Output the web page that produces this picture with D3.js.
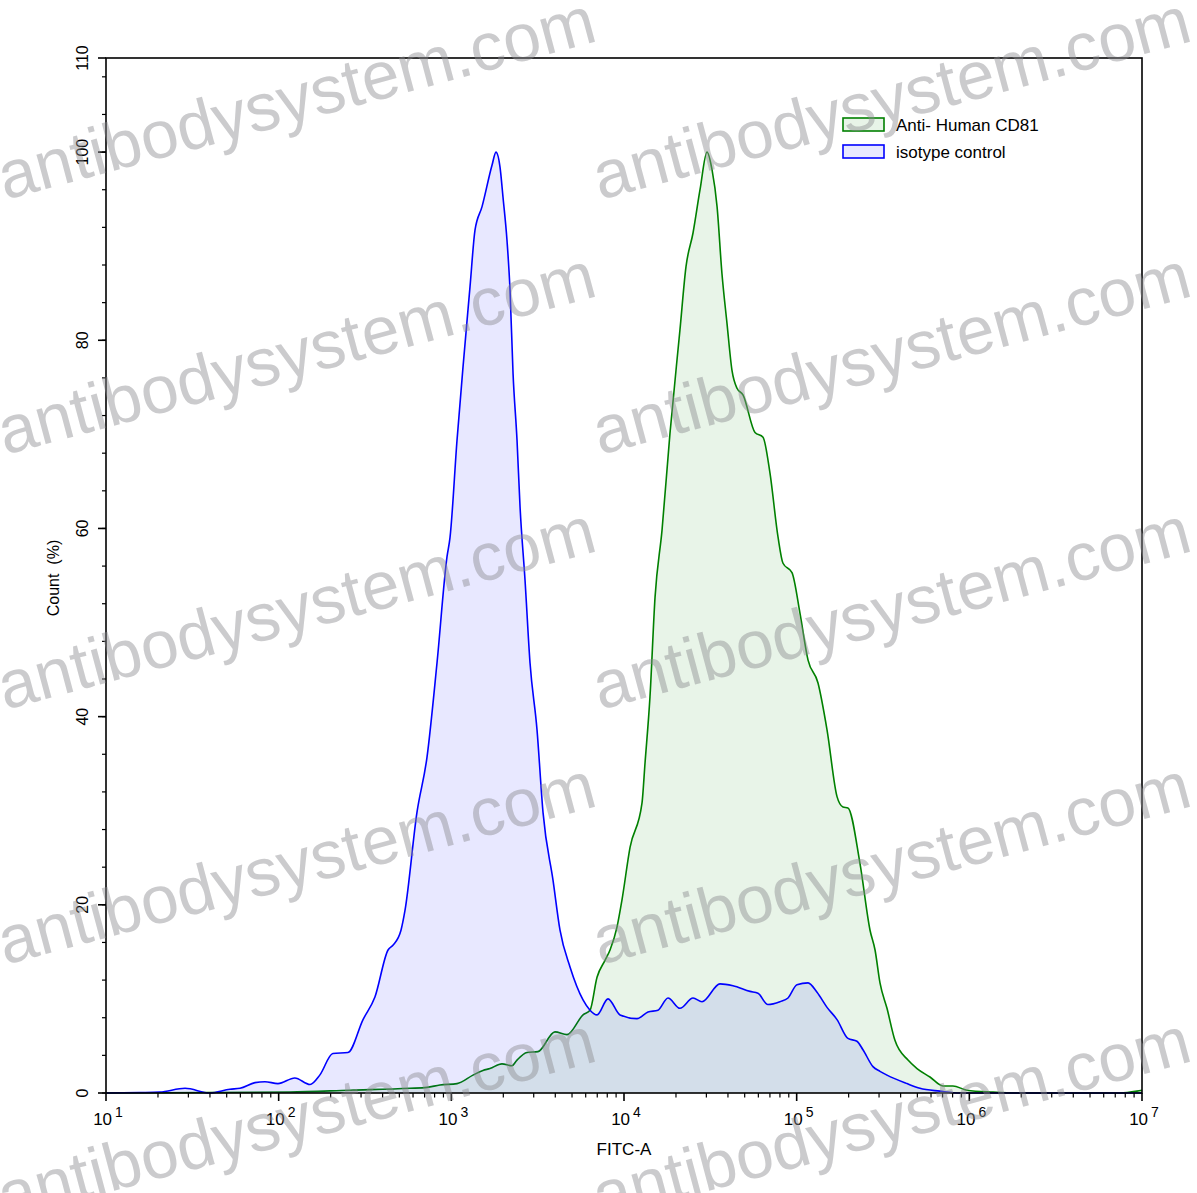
<!DOCTYPE html>
<html><head><meta charset="utf-8">
<script src="https://cdn.jsdelivr.net/npm/d3@7"></script>
<style>body{margin:0;background:#fff}text{font-family:Arial,"Liberation Sans",sans-serif}</style>
</head><body><svg id="c" width="1197" height="1193"></svg>
<script>
// FITC-A intensity, isotype control (blue)
const isoX = [10,15.7,20.5,28.7,40,52.2,59.7,72.9,83.3,99,124,152,173,206,252,308,361,430,459,511,539,632,723,826,944,982,1079,1169,1283,1371,1506,1720,1814,1914,1992,2101,2188,2277,2401,2500,2672,2856,3135,3397,3882,4260,4867,5791,6357,6979,8080,9480,11890,13770,15730,17980,21090,25100,28300,35970,42770,53700,59700,68200,80000,89100,100400,116400,131200,149900,171300,198200,223400,242100,276700,303800,333500,435400,517600,676100,883000,1500000,10000000];
const isoY = [0,0.05,0.1,0.5,0,0.4,0.5,1.1,1.2,1.0,1.6,0.9,1.9,4.2,4.3,7.8,10.2,15.2,15.7,17.3,19.4,29.8,35.7,45.7,57,59,69.4,77.2,85.7,91.7,94.2,98.6,100,98.4,95.2,90.6,85.3,76.5,69.4,62.3,54.5,45.7,38.6,29.8,22.6,17.3,13.4,9.9,8.8,8.3,10.0,8.3,7.9,8.6,8.8,10.1,9.0,10.1,9.7,11.6,11.4,10.8,10.6,9.4,9.7,10.1,11.5,11.7,10.7,9.1,7.8,5.8,5.5,4.6,2.8,2.3,1.9,1.0,0.5,0.2,0,0,0];
// Anti-Human CD81 (green)
const cdX = [10,116,259,576,723,859,1079,1334,1524,1674,1965,2244,2401,2742,3177,3983,4677,5791,6357,6979,7762,8300,9100,9730,10840,12710,13240,14140,15130,16600,18460,21090,22850,25100,27560,30260,32360,34590,36920,39490,42210,45120,48870,57370,63850,70030,77970,83350,93970,104500,116400,132800,149900,171300,185400,198200,232600,266000,284400,303800,333500,370800,441400,497800,591700,703500,803500,968000,1370000,1960000,7450000,9350000,10000000];
const cdY = [0,0.1,0.3,0.5,0.6,0.85,1.0,1.9,2.4,2.6,3.1,2.9,3.5,4.3,4.4,6.5,6.2,8.3,8.8,12.3,14.1,15.2,17.6,20.5,26.1,30.8,35.1,42.1,52.7,59.8,70.1,81.1,87.8,91.4,96.0,100,98.1,94.2,87.1,81.8,76.8,74.9,74.2,70.2,69.7,65.9,59.1,56.3,55.3,51.0,46.0,43.6,38.6,31.5,30.4,30.3,24.4,17.3,15.2,11.7,9.0,5.6,3.5,2.6,1.7,0.75,0.75,0.3,0.1,0,0,0.2,0.3];
const seriesNames = ["Anti- Human CD81","isotype control"];
const yTickLabels = [0,20,40,60,80,100,110];
const xTickExps = [1,2,3,4,5,6,7];

const svg = d3.select("#c");
const L=106,R=1142,T=58,B=1093;
const x = d3.scaleLog().domain([10,1e7]).range([L,R]);
const y = d3.scaleLinear().domain([0,110]).range([B,T]);

const series = [
  {name:seriesNames[0], xs:cdX, ys:cdY, stroke:"#008000", fill:"rgba(0,128,0,0.09)"},
  {name:seriesNames[1], xs:isoX, ys:isoY, stroke:"#0000ff", fill:"rgba(0,0,255,0.09)"}
];
const curve = d3.curveMonotoneX;
series.forEach(s=>{
  const pts = s.xs.map((v,i)=>[v,s.ys[i]]);
  svg.append("path").datum(pts)
    .attr("d", d3.area().x(d=>x(d[0])).y0(y(0)).y1(d=>y(d[1])).curve(curve))
    .attr("fill", s.fill);
  svg.append("path").datum(pts)
    .attr("d", d3.line().x(d=>x(d[0])).y(d=>y(d[1])).curve(curve))
    .attr("fill","none").attr("stroke", s.stroke).attr("stroke-width",1.6);
});

// frame
svg.append("rect").attr("x",L).attr("y",T).attr("width",R-L).attr("height",B-T)
  .attr("fill","none").attr("stroke","#000").attr("stroke-width",1.6);

// x ticks
const xMinor=[];
for(let e=1;e<7;e++) for(let m=2;m<10;m++) xMinor.push(m*Math.pow(10,e));
svg.append("g").selectAll("line").data(xMinor).join("line")
  .attr("x1",d=>x(d)).attr("x2",d=>x(d)).attr("y1",B).attr("y2",B+4.5)
  .attr("stroke","#000").attr("stroke-width",1.2);
svg.append("g").selectAll("line").data(xTickExps).join("line")
  .attr("x1",d=>x(Math.pow(10,d))).attr("x2",d=>x(Math.pow(10,d))).attr("y1",B).attr("y2",B+8)
  .attr("stroke","#000").attr("stroke-width",1.6);
const xl = svg.append("g").selectAll("text").data(xTickExps).join("text")
  .attr("x",d=>x(Math.pow(10,d))+2).attr("y",1125).attr("text-anchor","middle")
  .attr("font-size",17);
xl.append("tspan").text("10");
xl.append("tspan").attr("dx",3).attr("dy",-8).attr("font-size",14).text(d=>d);

// y ticks
const yMinor=d3.range(0,111,4);
svg.append("g").selectAll("line").data(yMinor).join("line")
  .attr("x1",L-4).attr("x2",L).attr("y1",d=>y(d)).attr("y2",d=>y(d))
  .attr("stroke","#000").attr("stroke-width",1.2);
svg.append("g").selectAll("line").data(yTickLabels).join("line")
  .attr("x1",L-8).attr("x2",L).attr("y1",d=>y(d)).attr("y2",d=>y(d))
  .attr("stroke","#000").attr("stroke-width",1.6);
svg.append("g").selectAll("text").data(yTickLabels).join("text")
  .attr("transform",d=>`translate(88,${y(d)}) rotate(-90)`)
  .attr("text-anchor","middle").attr("font-size",16).text(d=>d);

// titles
svg.append("text").attr("x",624).attr("y",1155).attr("text-anchor","middle").attr("font-size",17).text("FITC-A");
svg.append("text").attr("transform","translate(59,578) rotate(-90)").attr("text-anchor","middle")
  .attr("font-size",16).style("white-space","pre").text("Count  (%)");

// legend
const lg = svg.append("g").selectAll("g").data(series).join("g")
  .attr("transform",(d,i)=>`translate(843,${118+i*27})`);
lg.append("rect").attr("width",41).attr("height",13).attr("fill",d=>d.fill)
  .attr("stroke",d=>d.stroke).attr("stroke-width",1.6);
lg.append("text").attr("x",53).attr("y",13).attr("font-size",17).text(d=>d.name);

// watermark
const wm=[];
[200,455,710,965,1220].forEach(yy=>[5,600].forEach(xx=>wm.push([xx,yy])));
svg.append("g").selectAll("text").data(wm).join("text")
  .attr("transform",d=>`translate(${d[0]},${d[1]}) rotate(-15)`)
  .attr("font-size",67.5).attr("fill","rgb(140,140,145)").attr("fill-opacity",0.45)
  .text("antibodysystem.com");
</script></body></html>
